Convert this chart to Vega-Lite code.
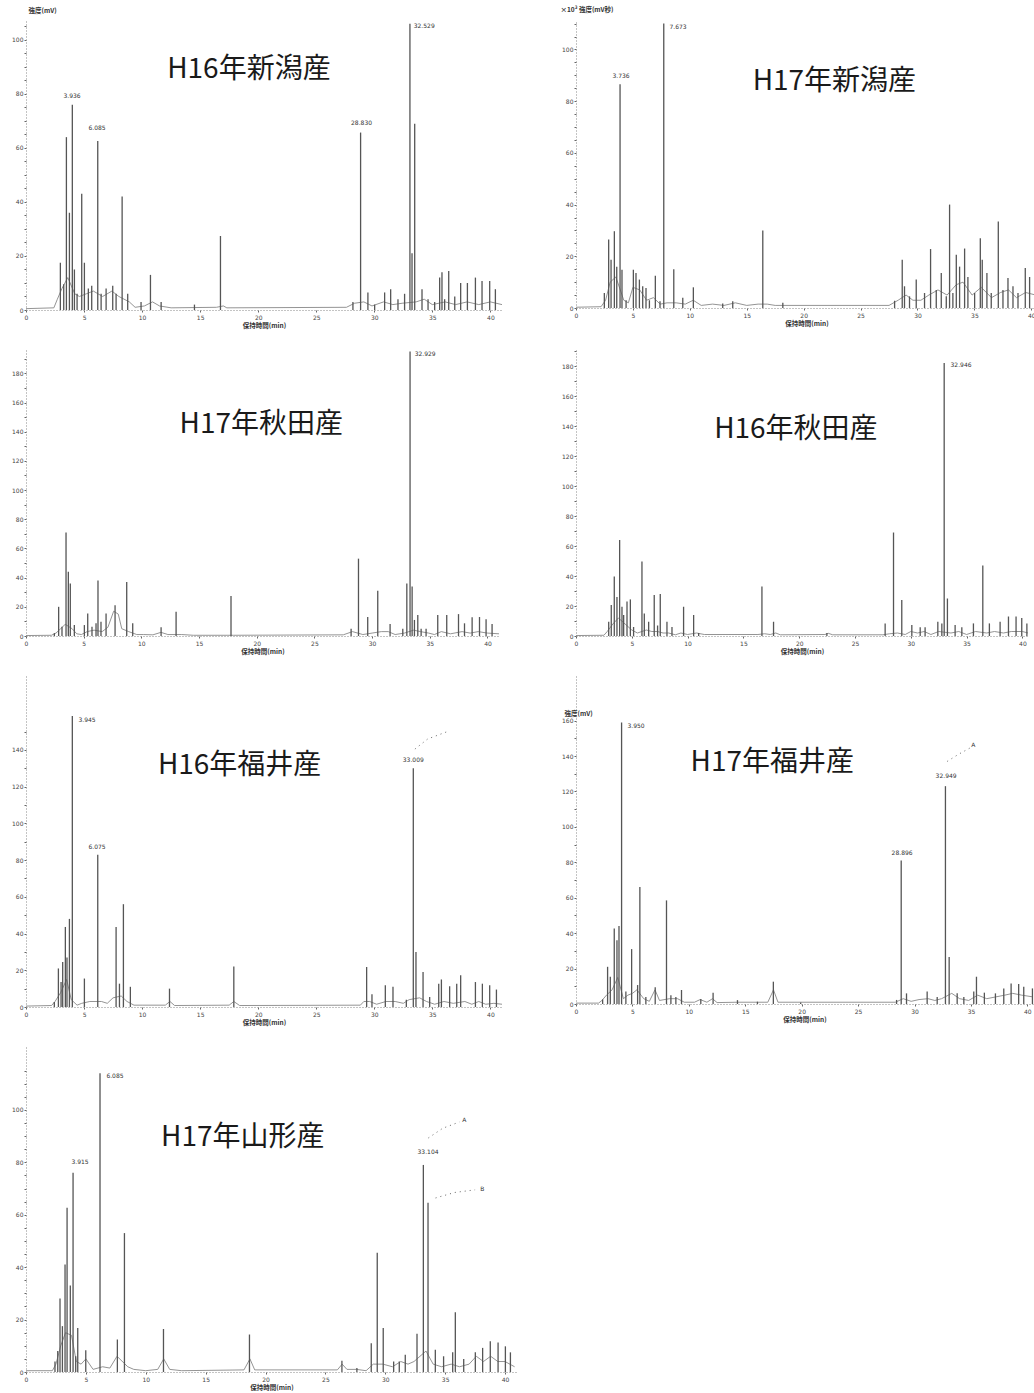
{
  "$schema": "https://vega.github.io/schema/vega-lite/v6.json",
  "background": "white",
  "padding": {"left": 11, "top": 6, "right": 0, "bottom": 0},
  "columns": 2,
  "spacing": {"row": 40, "column": 59},
  "bounds": "flush",
  "align": "each",
  "config": {
    "view": {"stroke": null},
    "axis": {"grid": false, "labelFontSize": 6, "labelColor": "#444", "labelFont": "DejaVu Sans", "tickSize": 2, "tickColor": "#666", "domainColor": "#888", "domainDash": [1, 2], "titleFontSize": 6.5, "titleColor": "#333", "titleFont": "Noto Sans CJK JP", "titleFontWeight": "bold", "labelFlush": false},
    "axisX": {"labelPadding": 2, "titlePadding": 2},
    "axisY": {"labelPadding": 1}
  },
  "datasets": {
    "p1": [{"t":2.96,"v":17.5},{"t":3.25,"v":9.5},{"t":3.48,"v":64},{"t":3.74,"v":36},{"t":3.99,"v":76},{"t":4.17,"v":15},{"t":4.40,"v":6},{"t":4.80,"v":43},{"t":5.03,"v":17.5},{"t":5.37,"v":8},{"t":5.66,"v":9},{"t":6.18,"v":62.6},{"t":6.47,"v":6},{"t":6.90,"v":8},{"t":7.47,"v":9},{"t":7.76,"v":6},{"t":8.28,"v":42},{"t":8.76,"v":6},{"t":9.91,"v":3},{"t":10.72,"v":13},{"t":11.64,"v":3},{"t":14.51,"v":2},{"t":16.75,"v":27.4},{"t":28.16,"v":3},{"t":28.82,"v":65.7},{"t":29.45,"v":6.5},{"t":30.03,"v":2},{"t":30.89,"v":6.5},{"t":31.41,"v":7.7},{"t":32.04,"v":4},{"t":32.61,"v":6},{"t":33.07,"v":106},{"t":33.25,"v":21},{"t":33.48,"v":69},{"t":34.11,"v":7.7},{"t":34.63,"v":4},{"t":35.20,"v":3},{"t":35.63,"v":12},{"t":35.83,"v":14},{"t":36.06,"v":4},{"t":36.41,"v":14.4},{"t":36.93,"v":5},{"t":37.44,"v":10},{"t":38.02,"v":10},{"t":38.71,"v":12},{"t":39.28,"v":10.7},{"t":39.94,"v":10.7},{"t":40.43,"v":7.7}],
    "b1": [{"t":0,"v":0.5},{"t":2.4,"v":0.8},{"t":2.7,"v":4},{"t":3.1,"v":8},{"t":3.6,"v":12},{"t":4.2,"v":6},{"t":4.6,"v":5},{"t":5.2,"v":6},{"t":5.8,"v":7},{"t":6.6,"v":5},{"t":7.4,"v":7},{"t":8.0,"v":5},{"t":8.9,"v":3},{"t":9.4,"v":1},{"t":10.2,"v":1.5},{"t":10.9,"v":3},{"t":11.5,"v":1.5},{"t":12.5,"v":0.8},{"t":16.4,"v":1},{"t":17.0,"v":1.5},{"t":17.3,"v":0.8},{"t":27.6,"v":1},{"t":28.3,"v":2.5},{"t":29.1,"v":3},{"t":29.8,"v":1.5},{"t":30.8,"v":3},{"t":31.6,"v":2},{"t":32.4,"v":2.5},{"t":33.6,"v":3},{"t":34.3,"v":4},{"t":35.0,"v":2},{"t":36.1,"v":3},{"t":37.0,"v":2},{"t":38.0,"v":3},{"t":39.0,"v":2},{"t":40.0,"v":3},{"t":41.0,"v":2}],
    "l1": [{"t":3.97,"v":79.3,"text":"3.936"},{"t":6.12,"v":67.4,"text":"6.085"},{"t":28.9,"v":69.3,"text":"28.830"},{"t":34.3,"v":105.2,"text":"32.529"}],
    "p2": [{"t":2.49,"v":5.8},{"t":2.87,"v":26.5},{"t":3.08,"v":18.7},{"t":3.37,"v":29.7},{"t":3.58,"v":16},{"t":3.87,"v":86.5},{"t":4.04,"v":14.8},{"t":4.40,"v":3},{"t":5.04,"v":14.8},{"t":5.27,"v":13.5},{"t":5.57,"v":11},{"t":5.86,"v":8.4},{"t":6.15,"v":7.7},{"t":6.45,"v":3},{"t":6.97,"v":12.5},{"t":7.38,"v":2.6},{"t":7.71,"v":110},{"t":8.59,"v":15},{"t":9.38,"v":4},{"t":10.31,"v":8},{"t":12.89,"v":1.7},{"t":13.77,"v":2.6},{"t":16.41,"v":30},{"t":18.17,"v":2},{"t":27.99,"v":2.8},{"t":28.66,"v":18.7},{"t":28.86,"v":8.4},{"t":29.30,"v":4.5},{"t":29.89,"v":11},{"t":30.62,"v":5.8},{"t":31.15,"v":22.8},{"t":31.65,"v":7},{"t":32.09,"v":13.5},{"t":32.53,"v":4.5},{"t":32.82,"v":40},{"t":33.11,"v":5.8},{"t":33.41,"v":20.6},{"t":33.70,"v":16},{"t":34.14,"v":23},{"t":34.43,"v":12},{"t":35.02,"v":5.8},{"t":35.52,"v":27},{"t":35.69,"v":18.7},{"t":36.10,"v":13.5},{"t":36.48,"v":5.8},{"t":37.10,"v":33.5},{"t":37.51,"v":7},{"t":37.95,"v":11.6},{"t":38.39,"v":8.4},{"t":38.83,"v":5.8},{"t":39.47,"v":15.5},{"t":39.85,"v":12},{"t":40.38,"v":9}],
    "b2": [{"t":0,"v":0.3},{"t":2.2,"v":0.5},{"t":2.6,"v":3},{"t":3.0,"v":10},{"t":3.5,"v":12},{"t":4.2,"v":3},{"t":4.6,"v":2},{"t":5.0,"v":8},{"t":5.6,"v":7},{"t":6.2,"v":3},{"t":6.8,"v":4},{"t":7.4,"v":1.5},{"t":8.0,"v":2},{"t":8.8,"v":2},{"t":9.6,"v":1.5},{"t":10.3,"v":3},{"t":11.0,"v":1},{"t":12.0,"v":1.5},{"t":13.0,"v":1},{"t":14.0,"v":2},{"t":15.0,"v":1},{"t":16.0,"v":1.5},{"t":16.8,"v":1.5},{"t":17.5,"v":1},{"t":27.5,"v":1},{"t":28.3,"v":3},{"t":29.0,"v":5},{"t":29.6,"v":3},{"t":30.3,"v":3},{"t":31.0,"v":5},{"t":31.8,"v":7},{"t":32.6,"v":5},{"t":33.4,"v":9},{"t":34.0,"v":10},{"t":34.8,"v":5},{"t":35.6,"v":8},{"t":36.5,"v":4},{"t":37.3,"v":6},{"t":38.0,"v":7},{"t":38.7,"v":4},{"t":39.5,"v":6},{"t":40.4,"v":5}],
    "l2": [{"t":3.96,"v":89.7,"text":"3.736"},{"t":8.97,"v":108.7,"text":"7.673"}],
    "p3": [{"t":2.46,"v":2},{"t":2.83,"v":20},{"t":3.12,"v":6.4},{"t":3.47,"v":71},{"t":3.67,"v":44},{"t":3.84,"v":36},{"t":4.19,"v":7.5},{"t":5.06,"v":7.5},{"t":5.35,"v":15.5},{"t":5.72,"v":6.4},{"t":6.07,"v":8.7},{"t":6.24,"v":38},{"t":6.50,"v":9.8},{"t":6.94,"v":15.5},{"t":7.72,"v":21},{"t":8.73,"v":37},{"t":9.25,"v":8.7},{"t":11.71,"v":6},{"t":13.01,"v":16.7},{"t":17.77,"v":27.4},{"t":28.18,"v":5},{"t":28.82,"v":53},{"t":29.62,"v":13},{"t":30.49,"v":31},{"t":31.56,"v":8.2},{"t":32.66,"v":5},{"t":33.01,"v":36},{"t":33.29,"v":195},{"t":33.47,"v":34},{"t":33.67,"v":11},{"t":33.96,"v":14.4},{"t":34.25,"v":5},{"t":34.68,"v":5},{"t":35.69,"v":14.4},{"t":36.47,"v":14.4},{"t":37.49,"v":15},{"t":38.01,"v":8.7},{"t":38.67,"v":12.8},{"t":39.31,"v":13},{"t":39.88,"v":11.4},{"t":40.40,"v":8.2}],
    "b3": [{"t":0,"v":0.3},{"t":2.2,"v":0.5},{"t":2.6,"v":2},{"t":3.0,"v":5},{"t":3.4,"v":8},{"t":4.0,"v":5},{"t":4.4,"v":1.5},{"t":4.8,"v":1},{"t":5.3,"v":3},{"t":5.9,"v":4},{"t":6.6,"v":3},{"t":7.1,"v":6},{"t":7.6,"v":17},{"t":8.0,"v":15},{"t":8.3,"v":5},{"t":8.9,"v":3},{"t":9.6,"v":1},{"t":10.2,"v":1},{"t":11.0,"v":0.8},{"t":11.7,"v":2.5},{"t":12.3,"v":1},{"t":13.5,"v":1},{"t":14.5,"v":0.5},{"t":17.5,"v":0.5},{"t":18.0,"v":0.5},{"t":27.5,"v":0.8},{"t":28.3,"v":3},{"t":29.2,"v":1},{"t":30.0,"v":2},{"t":30.8,"v":3},{"t":31.4,"v":3},{"t":32.0,"v":1},{"t":32.8,"v":2},{"t":33.6,"v":4},{"t":34.2,"v":3},{"t":34.9,"v":2},{"t":35.4,"v":1},{"t":36.0,"v":3},{"t":36.8,"v":1.5},{"t":37.8,"v":3},{"t":38.5,"v":2},{"t":39.2,"v":3},{"t":40.0,"v":2},{"t":41.0,"v":1.5}],
    "l3": [{"t":34.6,"v":193,"text":"32.929"}],
    "p4": [{"t":2.93,"v":9.5},{"t":3.16,"v":20.7},{"t":3.43,"v":39.6},{"t":3.67,"v":26},{"t":3.91,"v":64},{"t":4.12,"v":19.5},{"t":4.27,"v":14},{"t":4.57,"v":23},{"t":4.87,"v":24.4},{"t":5.16,"v":6},{"t":5.91,"v":49.6},{"t":6.12,"v":15},{"t":6.51,"v":9.5},{"t":7.01,"v":27.3},{"t":7.31,"v":7},{"t":7.55,"v":28},{"t":8.15,"v":9.5},{"t":8.60,"v":6},{"t":9.64,"v":19.5},{"t":10.54,"v":14},{"t":10.99,"v":2},{"t":16.66,"v":33},{"t":17.70,"v":9.5},{"t":22.48,"v":2},{"t":27.70,"v":8.4},{"t":28.45,"v":69},{"t":29.19,"v":24},{"t":30.09,"v":7.3},{"t":30.84,"v":5.8},{"t":31.28,"v":5.8},{"t":32.42,"v":9.5},{"t":32.78,"v":8.4},{"t":32.99,"v":182},{"t":33.28,"v":25},{"t":33.97,"v":7.3},{"t":34.57,"v":5.8},{"t":35.61,"v":8.4},{"t":36.45,"v":47},{"t":37.04,"v":8.4},{"t":38.00,"v":9.5},{"t":38.75,"v":13},{"t":39.43,"v":13},{"t":39.94,"v":12},{"t":40.40,"v":8.4}],
    "b4": [{"t":0,"v":0.3},{"t":2.5,"v":0.5},{"t":2.8,"v":3},{"t":3.3,"v":8},{"t":3.8,"v":12},{"t":4.4,"v":8},{"t":5.0,"v":4},{"t":5.5,"v":2},{"t":6.3,"v":4},{"t":6.8,"v":3},{"t":7.3,"v":3},{"t":7.8,"v":2},{"t":8.3,"v":2},{"t":8.9,"v":0.8},{"t":9.4,"v":2},{"t":10.0,"v":1},{"t":10.8,"v":2},{"t":11.5,"v":1},{"t":16.3,"v":1},{"t":16.9,"v":1.5},{"t":17.4,"v":1},{"t":17.9,"v":2},{"t":18.3,"v":0.8},{"t":22.3,"v":1},{"t":22.6,"v":1.8},{"t":23.0,"v":0.8},{"t":27.5,"v":0.8},{"t":28.1,"v":1.5},{"t":28.8,"v":2},{"t":29.5,"v":1},{"t":30.0,"v":3},{"t":30.6,"v":2},{"t":31.2,"v":3},{"t":31.8,"v":1},{"t":32.5,"v":3},{"t":33.6,"v":2},{"t":34.3,"v":3},{"t":35.0,"v":1},{"t":35.8,"v":3},{"t":36.8,"v":2},{"t":37.5,"v":3},{"t":38.3,"v":2},{"t":39.0,"v":3},{"t":40.0,"v":3},{"t":40.5,"v":2}],
    "l4": [{"t":34.5,"v":181,"text":"32.946"}],
    "p5": [{"t":2.44,"v":2.7},{"t":2.79,"v":21},{"t":3.02,"v":13.6},{"t":3.16,"v":24.5},{"t":3.39,"v":43.6},{"t":3.53,"v":27},{"t":3.74,"v":48},{"t":3.99,"v":158.5},{"t":5.03,"v":15.5},{"t":6.18,"v":83},{"t":7.76,"v":43.6},{"t":8.05,"v":12.7},{"t":8.39,"v":56},{"t":8.99,"v":11},{"t":12.36,"v":10},{"t":17.90,"v":22},{"t":29.34,"v":21.8},{"t":29.80,"v":7},{"t":30.95,"v":11.8},{"t":31.61,"v":11},{"t":32.76,"v":4},{"t":33.36,"v":130},{"t":33.59,"v":30},{"t":34.20,"v":19},{"t":34.77,"v":5.5},{"t":35.55,"v":12.7},{"t":35.78,"v":15},{"t":36.49,"v":11.3},{"t":37.10,"v":12.7},{"t":37.44,"v":17.3},{"t":38.71,"v":13.6},{"t":39.31,"v":12.7},{"t":39.94,"v":11.8},{"t":40.52,"v":9.5}],
    "b5": [{"t":0,"v":0.5},{"t":2.2,"v":0.8},{"t":2.5,"v":3},{"t":3.0,"v":8},{"t":3.5,"v":15},{"t":3.9,"v":4},{"t":4.4,"v":1},{"t":4.8,"v":2},{"t":5.5,"v":3},{"t":6.5,"v":3},{"t":7.0,"v":2},{"t":7.5,"v":5},{"t":8.2,"v":6},{"t":8.7,"v":3},{"t":9.3,"v":1},{"t":10.0,"v":1},{"t":12.0,"v":1},{"t":12.4,"v":3},{"t":12.8,"v":0.8},{"t":17.5,"v":1},{"t":17.9,"v":3},{"t":18.4,"v":0.8},{"t":28.8,"v":1},{"t":29.1,"v":3},{"t":29.6,"v":3},{"t":30.2,"v":1.5},{"t":31.0,"v":3},{"t":31.8,"v":3},{"t":32.5,"v":2},{"t":33.0,"v":4},{"t":33.9,"v":5},{"t":34.5,"v":3},{"t":35.2,"v":1.5},{"t":36.0,"v":3},{"t":36.8,"v":2},{"t":37.8,"v":3},{"t":38.4,"v":1.5},{"t":39.0,"v":3},{"t":39.6,"v":1.5},{"t":40.3,"v":2},{"t":41.0,"v":1.5}],
    "l5": [{"t":5.26,"v":156.3,"text":"3.945"},{"t":6.12,"v":87.1,"text":"6.075"},{"t":33.36,"v":134.5,"text":"33.009"}],
    "a5": [{"g":"a","t":33.5,"v":140.5},{"g":"a","t":34.6,"v":146},{"g":"a","t":36.2,"v":149.8}],
    "p6": [{"t":2.36,"v":2.6},{"t":2.80,"v":21},{"t":3.04,"v":15.4},{"t":3.39,"v":42.6},{"t":3.63,"v":36},{"t":3.81,"v":44},{"t":4.04,"v":159},{"t":4.42,"v":7},{"t":4.93,"v":31},{"t":5.46,"v":10.7},{"t":5.66,"v":66},{"t":6.19,"v":4},{"t":7.02,"v":9.4},{"t":8.02,"v":58.5},{"t":8.41,"v":5},{"t":8.85,"v":4},{"t":9.35,"v":7.9},{"t":11.06,"v":2.8},{"t":12.15,"v":6.4},{"t":14.31,"v":2.2},{"t":16.08,"v":1.3},{"t":17.49,"v":12.6},{"t":19.91,"v":0.8},{"t":28.41,"v":2.3},{"t":28.82,"v":81},{"t":29.29,"v":6},{"t":31.12,"v":7},{"t":32.01,"v":4},{"t":32.74,"v":123},{"t":33.07,"v":26.6},{"t":33.78,"v":6},{"t":34.37,"v":4},{"t":35.25,"v":7},{"t":35.49,"v":15.4},{"t":36.19,"v":6.4},{"t":37.17,"v":6},{"t":37.91,"v":8.8},{"t":38.56,"v":11.6},{"t":39.23,"v":11.3},{"t":39.68,"v":9.8},{"t":40.45,"v":8.8}],
    "b6": [{"t":0,"v":0.5},{"t":2.0,"v":0.5},{"t":2.3,"v":2},{"t":2.7,"v":5},{"t":3.2,"v":8},{"t":3.7,"v":15},{"t":4.2,"v":3},{"t":4.6,"v":5},{"t":5.0,"v":6},{"t":5.4,"v":8},{"t":6.0,"v":3},{"t":6.5,"v":1.5},{"t":7.0,"v":8},{"t":7.4,"v":2},{"t":8.3,"v":3},{"t":9.0,"v":3},{"t":9.6,"v":1},{"t":10.5,"v":1},{"t":11.0,"v":2.5},{"t":11.6,"v":1},{"t":12.1,"v":3},{"t":12.5,"v":0.8},{"t":14.3,"v":1},{"t":17.0,"v":1},{"t":17.5,"v":8},{"t":17.9,"v":1},{"t":28.3,"v":1},{"t":29.0,"v":3},{"t":29.7,"v":1.5},{"t":30.4,"v":2.5},{"t":31.2,"v":3},{"t":31.8,"v":2},{"t":32.4,"v":3},{"t":33.3,"v":6},{"t":34.0,"v":3},{"t":34.8,"v":2},{"t":35.6,"v":5},{"t":36.4,"v":3},{"t":37.2,"v":4},{"t":38.0,"v":5},{"t":38.7,"v":6},{"t":39.5,"v":5},{"t":40.5,"v":4}],
    "l6": [{"t":5.32,"v":157,"text":"3.950"},{"t":28.9,"v":85.3,"text":"28.896"},{"t":32.8,"v":129,"text":"32.949"},{"t":35.2,"v":146,"text":"A"}],
    "a6": [{"g":"a","t":32.9,"v":137},{"g":"a","t":33.9,"v":141},{"g":"a","t":34.9,"v":144.5}],
    "p7": [{"t":2.42,"v":4},{"t":2.65,"v":8},{"t":2.84,"v":28},{"t":3.04,"v":17.5},{"t":3.26,"v":41},{"t":3.43,"v":62.7},{"t":3.70,"v":33},{"t":3.93,"v":76},{"t":4.15,"v":6},{"t":4.32,"v":16.8},{"t":4.99,"v":8.3},{"t":6.18,"v":114},{"t":7.63,"v":12.4},{"t":8.22,"v":53},{"t":11.48,"v":16.4},{"t":18.66,"v":14.3},{"t":26.38,"v":4.3},{"t":27.63,"v":1.5},{"t":28.83,"v":11},{"t":29.33,"v":45.5},{"t":29.83,"v":16.8},{"t":30.70,"v":4},{"t":31.17,"v":4},{"t":31.67,"v":6.6},{"t":32.65,"v":14.6},{"t":33.18,"v":79},{"t":33.57,"v":64.6},{"t":34.18,"v":8.5},{"t":34.87,"v":6},{"t":35.63,"v":7.5},{"t":35.85,"v":22.8},{"t":36.55,"v":5},{"t":37.52,"v":7.5},{"t":38.13,"v":9.2},{"t":38.77,"v":11.7},{"t":39.42,"v":11.3},{"t":40.03,"v":9.8},{"t":40.45,"v":7.5}],
    "b7": [{"t":0,"v":0.5},{"t":2.2,"v":0.5},{"t":2.5,"v":3},{"t":2.9,"v":10},{"t":3.3,"v":15},{"t":3.8,"v":14},{"t":4.2,"v":4},{"t":4.6,"v":3},{"t":5.0,"v":5},{"t":5.6,"v":1},{"t":6.4,"v":2},{"t":7.0,"v":1.5},{"t":7.6,"v":6},{"t":8.5,"v":2},{"t":9.0,"v":1},{"t":10.0,"v":0.5},{"t":11.0,"v":1},{"t":11.5,"v":5},{"t":12.0,"v":1},{"t":13.0,"v":0.5},{"t":18.2,"v":0.8},{"t":18.7,"v":5},{"t":19.1,"v":0.8},{"t":26.0,"v":0.8},{"t":26.4,"v":3},{"t":26.8,"v":1},{"t":27.6,"v":1},{"t":28.4,"v":0.5},{"t":29.0,"v":3},{"t":29.8,"v":3},{"t":30.6,"v":2},{"t":31.3,"v":4},{"t":31.9,"v":3},{"t":32.4,"v":4},{"t":33.4,"v":8},{"t":34.0,"v":3},{"t":34.7,"v":2},{"t":35.5,"v":3},{"t":36.2,"v":2},{"t":37.0,"v":3},{"t":37.6,"v":6},{"t":38.2,"v":4},{"t":38.8,"v":6},{"t":39.4,"v":4},{"t":40.0,"v":4},{"t":40.8,"v":2}],
    "l7": [{"t":4.51,"v":80.2,"text":"3.915"},{"t":7.43,"v":113,"text":"6.085"},{"t":33.57,"v":84,"text":"33.104"},{"t":36.6,"v":96,"text":"A"},{"t":38.1,"v":70,"text":"B"}],
    "a7": [{"g":"a","t":33.6,"v":89.3},{"g":"a","t":34.8,"v":93},{"g":"a","t":36.2,"v":95.4},{"g":"b","t":34.2,"v":66.4},{"g":"b","t":35.8,"v":68.5},{"g":"b","t":37.5,"v":69.5}]
  },
  "concat": [
    {
      "width": 476, "height": 289,
      "encoding": {
        "x": {"field": "t", "type": "quantitative", "scale": {"domain": [0, 41], "nice": false, "zero": false}, "axis": {"values": [0,5,10,15,20,25,30,35,40], "title": "保持時間(min)"}},
        "y": {"field": "v", "type": "quantitative", "scale": {"domain": [0, 107], "nice": false}, "axis": {"values": [0,5,10,15,20,25,30,35,40,45,50,55,60,65,70,75,80,85,90,95,100,105], "labelExpr": "datum.value % 20 === 0 ? datum.label : ''", "title": "強度(mV)", "titleAngle": 0, "titleAlign": "left", "titleBaseline": "bottom", "titleX": 2, "titleY": -8}}
      },
      "layer": [
        {"data": {"name": "b1"}, "mark": {"type": "line", "color": "#888", "strokeWidth": 0.9}},
        {"data": {"name": "p1"}, "mark": {"type": "rule", "color": "#555", "strokeWidth": 1.3}, "encoding": {"y2": {"datum": 0}}},
        {"data": {"name": "l1"}, "mark": {"type": "text", "fontSize": 6, "color": "#333", "font": "DejaVu Sans"}, "encoding": {"text": {"field": "text"}}},
        {"data": {"values": [{"t": 19.2, "v": 88.9, "text": "H16年新潟産"}]}, "mark": {"type": "text", "fontSize": 28, "font": "Noto Sans CJK JP", "color": "#1a1a1a"}, "encoding": {"text": {"field": "text"}}}
      ]
    },
    {
      "width": 461, "height": 287,
      "encoding": {
        "x": {"field": "t", "type": "quantitative", "scale": {"domain": [0, 40.5], "nice": false, "zero": false}, "axis": {"values": [0,5,10,15,20,25,30,35,40], "title": "保持時間(min)"}},
        "y": {"field": "v", "type": "quantitative", "scale": {"domain": [0, 111], "nice": false}, "axis": {"values": [0,5,10,15,20,25,30,35,40,45,50,55,60,65,70,75,80,85,90,95,100,105,110], "labelExpr": "datum.value % 20 === 0 ? datum.label : ''", "title": "×10³ 強度(mV秒)", "titleAngle": 0, "titleAlign": "left", "titleBaseline": "bottom", "titleX": -16, "titleY": -9}}
      },
      "layer": [
        {"data": {"name": "b2"}, "mark": {"type": "line", "color": "#888", "strokeWidth": 0.9}},
        {"data": {"name": "p2"}, "mark": {"type": "rule", "color": "#555", "strokeWidth": 1.3}, "encoding": {"y2": {"datum": 0}}},
        {"data": {"name": "l2"}, "mark": {"type": "text", "fontSize": 6, "color": "#333", "font": "DejaVu Sans"}, "encoding": {"text": {"field": "text"}}},
        {"data": {"values": [{"t": 22.7, "v": 87.4, "text": "H17年新潟産"}]}, "mark": {"type": "text", "fontSize": 28, "font": "Noto Sans CJK JP", "color": "#1a1a1a"}, "encoding": {"text": {"field": "text"}}}
      ]
    },
    {
      "width": 473, "height": 286,
      "encoding": {
        "x": {"field": "t", "type": "quantitative", "scale": {"domain": [0, 41], "nice": false, "zero": false}, "axis": {"values": [0,5,10,15,20,25,30,35,40], "title": "保持時間(min)"}},
        "y": {"field": "v", "type": "quantitative", "scale": {"domain": [0, 196], "nice": false}, "axis": {"values": [0,10,20,30,40,50,60,70,80,90,100,110,120,130,140,150,160,170,180,190], "labelExpr": "datum.value % 20 === 0 ? datum.label : ''", "title": null}}
      },
      "layer": [
        {"data": {"name": "b3"}, "mark": {"type": "line", "color": "#888", "strokeWidth": 0.9}},
        {"data": {"name": "p3"}, "mark": {"type": "rule", "color": "#555", "strokeWidth": 1.3}, "encoding": {"y2": {"datum": 0}}},
        {"data": {"name": "l3"}, "mark": {"type": "text", "fontSize": 6, "color": "#333", "font": "DejaVu Sans"}, "encoding": {"text": {"field": "text"}}},
        {"data": {"values": [{"t": 20.4, "v": 144.8, "text": "H17年秋田産"}]}, "mark": {"type": "text", "fontSize": 28, "font": "Noto Sans CJK JP", "color": "#1a1a1a"}, "encoding": {"text": {"field": "text"}}}
      ]
    },
    {
      "width": 452, "height": 286,
      "encoding": {
        "x": {"field": "t", "type": "quantitative", "scale": {"domain": [0, 40.5], "nice": false, "zero": false}, "axis": {"values": [0,5,10,15,20,25,30,35,40], "title": "保持時間(min)"}},
        "y": {"field": "v", "type": "quantitative", "scale": {"domain": [0, 190.7], "nice": false}, "axis": {"values": [0,10,20,30,40,50,60,70,80,90,100,110,120,130,140,150,160,170,180,190], "labelExpr": "datum.value % 20 === 0 ? datum.label : ''", "title": null}}
      },
      "layer": [
        {"data": {"name": "b4"}, "mark": {"type": "line", "color": "#888", "strokeWidth": 0.9}},
        {"data": {"name": "p4"}, "mark": {"type": "rule", "color": "#555", "strokeWidth": 1.3}, "encoding": {"y2": {"datum": 0}}},
        {"data": {"name": "l4"}, "mark": {"type": "text", "fontSize": 6, "color": "#333", "font": "DejaVu Sans"}, "encoding": {"text": {"field": "text"}}},
        {"data": {"values": [{"t": 19.7, "v": 137.3, "text": "H16年秋田産"}]}, "mark": {"type": "text", "fontSize": 28, "font": "Noto Sans CJK JP", "color": "#1a1a1a"}, "encoding": {"text": {"field": "text"}}}
      ]
    },
    {
      "width": 476, "height": 331,
      "encoding": {
        "x": {"field": "t", "type": "quantitative", "scale": {"domain": [0, 41], "nice": false, "zero": false}, "axis": {"values": [0,5,10,15,20,25,30,35,40], "title": "保持時間(min)"}},
        "y": {"field": "v", "type": "quantitative", "scale": {"domain": [0, 180.3], "nice": false}, "axis": {"values": [0,10,20,30,40,50,60,70,80,90,100,110,120,130,140,150], "labelExpr": "datum.value % 20 === 0 ? datum.label : ''", "title": null}}
      },
      "layer": [
        {"data": {"name": "b5"}, "mark": {"type": "line", "color": "#888", "strokeWidth": 0.9}},
        {"data": {"name": "p5"}, "mark": {"type": "rule", "color": "#555", "strokeWidth": 1.3}, "encoding": {"y2": {"datum": 0}}},
        {"data": {"name": "a5"}, "mark": {"type": "line", "color": "#666", "strokeWidth": 1, "strokeDash": [1, 4]}, "encoding": {"detail": {"field": "g"}}},
        {"data": {"name": "l5"}, "mark": {"type": "text", "fontSize": 6, "color": "#333", "font": "DejaVu Sans"}, "encoding": {"text": {"field": "text"}}},
        {"data": {"values": [{"t": 18.4, "v": 131.3, "text": "H16年福井産"}]}, "mark": {"type": "text", "fontSize": 28, "font": "Noto Sans CJK JP", "color": "#1a1a1a"}, "encoding": {"text": {"field": "text"}}}
      ]
    },
    {
      "width": 457, "height": 328,
      "encoding": {
        "x": {"field": "t", "type": "quantitative", "scale": {"domain": [0, 40.5], "nice": false, "zero": false}, "axis": {"values": [0,5,10,15,20,25,30,35,40], "title": "保持時間(min)"}},
        "y": {"field": "v", "type": "quantitative", "scale": {"domain": [0, 185.2], "nice": false}, "axis": {"values": [0,10,20,30,40,50,60,70,80,90,100,110,120,130,140,150,160], "labelExpr": "datum.value % 20 === 0 ? datum.label : ''", "title": "強度(mV)", "titleAngle": 0, "titleAlign": "left", "titleBaseline": "bottom", "titleX": -12, "titleY": 40}}
      },
      "layer": [
        {"data": {"name": "b6"}, "mark": {"type": "line", "color": "#888", "strokeWidth": 0.9}},
        {"data": {"name": "p6"}, "mark": {"type": "rule", "color": "#555", "strokeWidth": 1.3}, "encoding": {"y2": {"datum": 0}}},
        {"data": {"name": "a6"}, "mark": {"type": "line", "color": "#666", "strokeWidth": 1, "strokeDash": [1, 4]}, "encoding": {"detail": {"field": "g"}}},
        {"data": {"name": "l6"}, "mark": {"type": "text", "fontSize": 6, "color": "#333", "font": "DejaVu Sans"}, "encoding": {"text": {"field": "text"}}},
        {"data": {"values": [{"t": 17.4, "v": 135.8, "text": "H17年福井産"}]}, "mark": {"type": "text", "fontSize": 28, "font": "Noto Sans CJK JP", "color": "#1a1a1a"}, "encoding": {"text": {"field": "text"}}}
      ]
    },
    {
      "width": 491, "height": 325,
      "encoding": {
        "x": {"field": "t", "type": "quantitative", "scale": {"domain": [0, 41], "nice": false, "zero": false}, "axis": {"values": [0,5,10,15,20,25,30,35,40], "title": "保持時間(min)"}},
        "y": {"field": "v", "type": "quantitative", "scale": {"domain": [0, 124], "nice": false}, "axis": {"values": [0,5,10,15,20,25,30,35,40,45,50,55,60,65,70,75,80,85,90,95,100,105,110,115], "labelExpr": "datum.value % 20 === 0 ? datum.label : ''", "title": null}}
      },
      "layer": [
        {"data": {"name": "b7"}, "mark": {"type": "line", "color": "#888", "strokeWidth": 0.9}},
        {"data": {"name": "p7"}, "mark": {"type": "rule", "color": "#555", "strokeWidth": 1.3}, "encoding": {"y2": {"datum": 0}}},
        {"data": {"name": "a7"}, "mark": {"type": "line", "color": "#666", "strokeWidth": 1, "strokeDash": [1, 4]}, "encoding": {"detail": {"field": "g"}}},
        {"data": {"name": "l7"}, "mark": {"type": "text", "fontSize": 6, "color": "#333", "font": "DejaVu Sans"}, "encoding": {"text": {"field": "text"}}},
        {"data": {"values": [{"t": 18.1, "v": 89.2, "text": "H17年山形産"}]}, "mark": {"type": "text", "fontSize": 28, "font": "Noto Sans CJK JP", "color": "#1a1a1a"}, "encoding": {"text": {"field": "text"}}}
      ]
    }
  ]
}
